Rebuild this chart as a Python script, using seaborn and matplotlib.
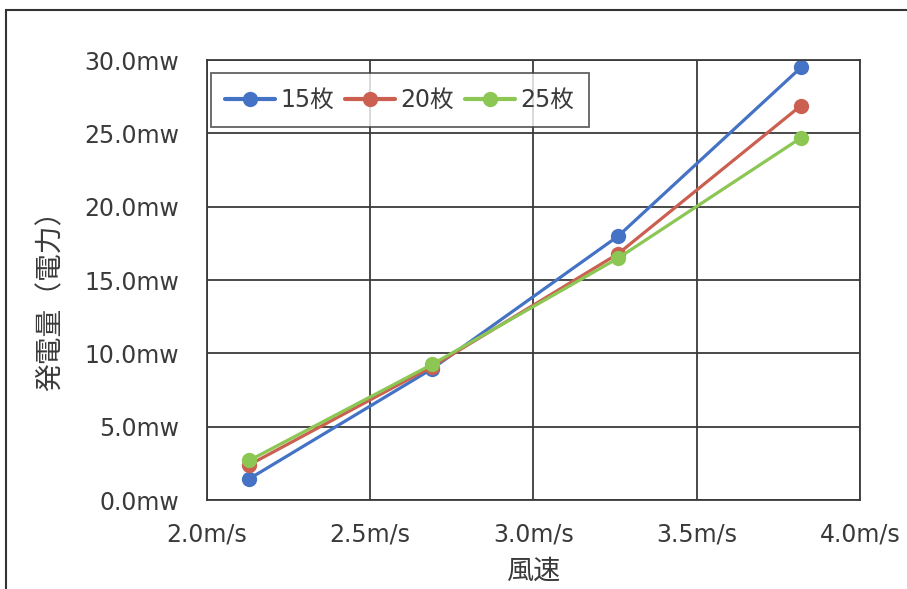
import matplotlib
matplotlib.use("Agg")
import matplotlib.pyplot as plt
import seaborn as sns
import pandas as pd
from matplotlib.patches import Rectangle
from matplotlib.ticker import FuncFormatter, MultipleLocator

wind_speed = [2.13, 2.69, 3.26, 3.82]
power_15 = [1.45, 8.95, 18.0, 29.5]
power_20 = [2.4, 9.1, 16.8, 26.9]
power_25 = [2.7, 9.25, 16.5, 24.7]
series_names = ["15枚", "20枚", "25枚"]
colors = ["#4472C4", "#CB5F50", "#8CC653"]

df = pd.DataFrame({
    "風速": wind_speed * 3,
    "発電量": power_15 + power_20 + power_25,
    "series": [series_names[0]] * 4 + [series_names[1]] * 4 + [series_names[2]] * 4,
})

sns.set_theme(style="white")
plt.rcParams["font.family"] = ["DejaVu Sans", "Noto Sans CJK JP"]
cjk = ["Noto Sans CJK JP", "DejaVu Sans"]
txt = "#3a3a3a"

fig = plt.figure(figsize=(9.07, 5.89), dpi=100)
ax = fig.add_axes([0.228, 0.151, 0.720, 0.747])

sns.lineplot(data=df, x="風速", y="発電量", hue="series", hue_order=series_names,
             palette=colors, marker="o", markersize=11, markeredgewidth=0,
             linewidth=2.3, ax=ax)

ax.set_xlim(2.0, 4.0)
ax.set_ylim(0, 30)
ax.xaxis.set_major_locator(MultipleLocator(0.5))
ax.yaxis.set_major_locator(MultipleLocator(5))
ax.xaxis.set_major_formatter(FuncFormatter(lambda v, p: f"{v:.1f}m/s"))
ax.yaxis.set_major_formatter(FuncFormatter(lambda v, p: f"{v:.1f}mw"))
ax.grid(True, color="#3a3a3a", linewidth=1.3)
ax.set_axisbelow(True)
for s in ax.spines.values():
    s.set_color("#3a3a3a")
    s.set_linewidth(1.3)
ax.tick_params(axis="x", labelsize=17, colors=txt, length=0, pad=16)
ax.tick_params(axis="y", labelsize=17, colors=txt, length=0, pad=20)
ax.set_xlabel("風速", fontsize=19.5, color=txt, family=cjk)
ax.set_ylabel("発電量（電力）", fontsize=20, color=txt, family=cjk)
ax.xaxis.set_label_coords(0.5, -0.13)
ax.yaxis.set_label_coords(-0.217, 0.469)

leg = ax.legend(loc="upper left", ncol=3, fontsize=17, frameon=True,
                bbox_to_anchor=(0.006, 0.97), handlelength=2.1, handletextpad=0.25,
                columnspacing=0.45, borderpad=0.62, borderaxespad=0.0, fancybox=False)
leg.get_frame().set_edgecolor("#3a3a3a")
leg.get_frame().set_linewidth(1.3)
for t in leg.get_texts():
    t.set_color(txt)
for line in leg.get_lines():
    line.set_linewidth(3.0)

fig.patches.append(Rectangle((6 / 907, -0.1), 1.2, 1 - 10 / 589 + 0.1, transform=fig.transFigure,
                             fill=False, edgecolor="#333333", linewidth=1.5))

fig.savefig("out.png", dpi=100)
